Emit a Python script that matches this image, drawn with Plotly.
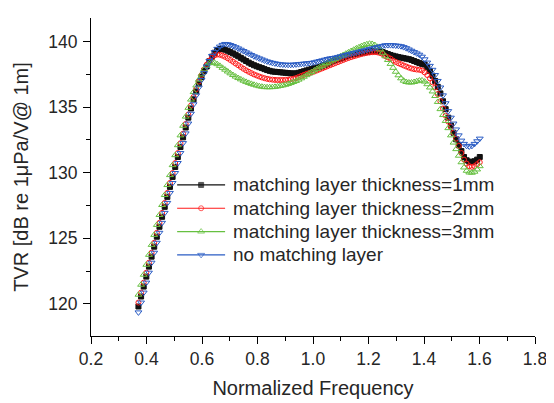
import numpy as np
import plotly.graph_objects as go

# Normalized frequency sampling grid (uniform, 0.371 .. 1.601)
n_pts = 131
freq = np.linspace(0.371, 1.601, n_pts)

tvr_1mm = [
    119.8, 120.56, 121.32, 122.08, 122.84, 123.6, 124.36, 125.12, 125.88, 126.64,
    127.4, 128.16, 128.92, 129.68, 130.44, 131.2, 131.96, 132.7, 133.45, 134.2,
    134.9, 135.6, 136.2, 136.8, 137.3, 137.75, 138.1, 138.5, 138.85, 139.15,
    139.35, 139.43, 139.45, 139.38, 139.3, 139.2, 139.1, 139.0, 138.88, 138.76,
    138.64, 138.52, 138.4, 138.3, 138.2, 138.12, 138.05, 137.98, 137.9, 137.83,
    137.77, 137.72, 137.7, 137.68, 137.66, 137.64, 137.62, 137.6, 137.58, 137.57,
    137.58, 137.62, 137.68, 137.74, 137.8, 137.86, 137.92, 137.97, 138.02, 138.07,
    138.14, 138.22, 138.3, 138.4, 138.5, 138.58, 138.65, 138.7, 138.78, 138.86,
    138.94, 139.0, 139.04, 139.07, 139.1, 139.14, 139.18, 139.22, 139.25, 139.27,
    139.28, 139.27, 139.25, 139.2, 139.12, 139.05, 138.98, 138.92, 138.87, 138.82,
    138.78, 138.74, 138.7, 138.66, 138.6, 138.52, 138.44, 138.36, 138.3, 138.25,
    138.05, 137.75, 137.4, 137.0, 136.55, 136.05, 135.45, 134.85, 134.2, 133.6,
    133.05, 132.55, 132.1, 131.65, 131.2, 130.95, 130.85, 130.82, 130.88, 131.0,
    131.2,
]

tvr_2mm = [
    120.1, 120.86, 121.62, 122.38, 123.14, 123.9, 124.66, 125.42, 126.18, 126.94,
    127.7, 128.46, 129.22, 129.98, 130.74, 131.5, 132.25, 132.98, 133.72, 134.44,
    135.12, 135.78, 136.38, 136.95, 137.45, 137.88, 138.25, 138.55, 138.8, 138.95,
    139.02, 139.0, 138.93, 138.84, 138.73, 138.6, 138.47, 138.33, 138.2, 138.06,
    137.93, 137.81, 137.7, 137.6, 137.5, 137.42, 137.34, 137.27, 137.21, 137.16,
    137.12, 137.1, 137.08, 137.07, 137.07, 137.07, 137.08, 137.1, 137.13, 137.17,
    137.22, 137.3, 137.38, 137.46, 137.54, 137.6, 137.66, 137.72, 137.8, 137.88,
    137.96, 138.04, 138.12, 138.2, 138.28, 138.36, 138.44, 138.52, 138.6, 138.68,
    138.75, 138.82, 138.88, 138.94, 139.0, 139.05, 139.1, 139.14, 139.17, 139.19,
    139.2, 139.18, 139.13, 139.05, 138.9, 138.8, 138.7, 138.55, 138.45, 138.35,
    138.27, 138.18, 138.1, 138.02, 137.95, 137.9, 137.87, 137.85, 137.8, 137.65,
    137.45, 137.2, 136.9, 136.5, 136.0, 135.45, 134.9, 134.35, 133.9, 133.5,
    133.05, 132.6, 132.05, 131.5, 131.0, 130.7, 130.5, 130.45, 130.5, 130.65,
    130.8,
]

tvr_3mm = [
    120.7, 121.46, 122.22, 122.98, 123.74, 124.5, 125.26, 126.02, 126.78, 127.54,
    128.3, 129.06, 129.82, 130.58, 131.34, 132.1, 132.85, 133.58, 134.28, 134.95,
    135.58, 136.15, 136.65, 137.1, 137.5, 137.88, 138.15, 138.35, 138.42, 138.38,
    138.28, 138.15, 138.0, 137.86, 137.72, 137.58, 137.45, 137.33, 137.22, 137.12,
    137.02, 136.93, 136.85, 136.78, 136.71, 136.65, 136.6, 136.56, 136.53, 136.52,
    136.52, 136.53, 136.55, 136.58, 136.62, 136.66, 136.71, 136.77, 136.84, 136.92,
    137.0, 137.1, 137.2, 137.32, 137.44, 137.56, 137.68, 137.8, 137.92, 138.04,
    138.15, 138.26, 138.37, 138.48, 138.58, 138.68, 138.78, 138.88, 138.98, 139.08,
    139.18, 139.28, 139.38, 139.48, 139.57, 139.66, 139.74, 139.8, 139.84, 139.82,
    139.74, 139.6, 139.4, 139.15, 138.88, 138.6, 138.3, 138.0, 137.7, 137.43,
    137.2, 137.02, 136.92, 136.88, 136.88, 136.92, 136.98, 137.03, 137.04, 136.95,
    136.75, 136.5, 136.2, 135.85, 135.4, 134.85, 134.4, 133.95, 133.4, 132.85,
    132.3, 131.8, 131.3, 130.8, 130.4, 130.15, 130.02, 130.0, 130.08, 130.25,
    130.5,
]

tvr_none = [
    119.35, 120.1, 120.86, 121.62, 122.38, 123.14, 123.9, 124.66, 125.42, 126.18,
    126.94, 127.7, 128.46, 129.22, 129.98, 130.74, 131.5, 132.26, 133.0, 133.75,
    134.5, 135.22, 135.9, 136.5, 137.08, 137.6, 138.1, 138.52, 138.9, 139.2,
    139.45, 139.62, 139.75, 139.82, 139.8, 139.74, 139.66, 139.57, 139.48, 139.38,
    139.28, 139.18, 139.08, 138.98, 138.88, 138.8, 138.72, 138.64, 138.56, 138.49,
    138.43, 138.38, 138.34, 138.3, 138.27, 138.25, 138.24, 138.23, 138.23, 138.24,
    138.26, 138.28, 138.3, 138.32, 138.34, 138.36, 138.38, 138.42, 138.47, 138.52,
    138.57, 138.62, 138.67, 138.72, 138.75, 138.78, 138.83, 138.88, 138.93, 138.98,
    139.03, 139.08, 139.13, 139.18, 139.23, 139.28, 139.33, 139.38, 139.43, 139.48,
    139.53, 139.58, 139.63, 139.67, 139.72, 139.73, 139.73, 139.72, 139.7, 139.68,
    139.65, 139.58, 139.5, 139.4, 139.3, 139.2, 139.1, 139.0, 138.85, 138.65,
    138.4, 138.15, 137.85, 137.45, 137.0, 136.5, 135.9, 135.3, 134.7, 134.2,
    133.75, 133.3, 132.85, 132.45, 132.2, 132.05, 132.0, 132.05, 132.2, 132.4,
    132.6,
]

series_names = [
    "matching layer thickness=1mm",
    "matching layer thickness=2mm",
    "matching layer thickness=3mm",
    "no matching layer",
]
series_values = [tvr_1mm, tvr_2mm, tvr_3mm, tvr_none]
series_colors = ["#111111", "#ff1a1a", "#66c040", "#2a5cc4"]
series_symbols = ["square", "circle-open", "triangle-up-open", "triangle-down-open"]
series_sizes = [5, 5, 6, 6]

x_ticks = [0.2, 0.4, 0.6, 0.8, 1.0, 1.2, 1.4, 1.6, 1.8]
x_tick_labels = ["0.2", "0.4", "0.6", "0.8", "1.0", "1.2", "1.4", "1.6", "1.8"]
y_ticks = [120, 125, 130, 135, 140]

font_fam = "Liberation Sans, Arial, sans-serif"
txt = "#262626"

fig = go.Figure()
for name, vals, col, sym, sz in zip(series_names, series_values, series_colors,
                                    series_symbols, series_sizes):
    fig.add_trace(go.Scatter(
        x=freq, y=vals, mode="markers", name=name, showlegend=False,
        marker=dict(symbol=sym, size=sz, color=col, line=dict(color=col, width=1)),
    ))

# Legend drawn in a hidden overlay axis spanning the plot area (0..1 fractions)
leg_x0, leg_xm, leg_x1, leg_xt = 0.194, 0.248, 0.302, 0.316
leg_y_top, leg_dy = 0.475, 0.0733
annotations = []
for i, (name, col, sym, sz) in enumerate(zip(series_names, series_colors,
                                             series_symbols, series_sizes)):
    yy = leg_y_top - i * leg_dy
    fig.add_trace(go.Scatter(
        x=[leg_x0, leg_xm, leg_x1], y=[yy, yy, yy], mode="lines+markers",
        xaxis="x2", yaxis="y2", showlegend=False, hoverinfo="skip",
        line=dict(color=col, width=1.2),
        marker=dict(symbol=sym, size=[0, sz, 0], color=col, line=dict(color=col, width=1)),
    ))
    annotations.append(dict(
        x=leg_xt, y=yy, xref="x2", yref="y2", text=name, showarrow=False,
        xanchor="left", yanchor="middle", font=dict(size=19, color=txt),
    ))

# The page body has an 8px default margin, so the figure is 8px smaller
# and the margins are reduced accordingly.
fig.update_layout(
    width=546, height=395,
    margin=dict(l=83, r=19, t=10, b=67, pad=0),
    paper_bgcolor="white", plot_bgcolor="white",
    font=dict(family=font_fam, size=18, color=txt),
    showlegend=False,
    annotations=annotations,
    xaxis2=dict(overlaying="x", range=[0, 1], visible=False, fixedrange=True),
    yaxis2=dict(overlaying="y", range=[0, 1], visible=False, fixedrange=True),
)
fig.update_layout(
    xaxis=dict(
        range=[0.2, 1.8], tickvals=x_ticks, ticktext=x_tick_labels, automargin=False,
        showgrid=False, zeroline=False, showline=True, linecolor="black", linewidth=1,
        ticks="outside", ticklen=7, tickwidth=1, tickcolor="black",
        minor=dict(dtick=0.1, tick0=0.2, ticks="outside", ticklen=4, tickcolor="black", showgrid=False),
        tickfont=dict(size=17.5, color=txt),
        title=dict(text="Normalized Frequency", font=dict(size=20, color=txt), standoff=12),
    ),
    yaxis=dict(
        range=[117.55, 141.8], tickvals=y_ticks, automargin=False,
        showgrid=False, zeroline=False, showline=True, linecolor="black", linewidth=1,
        ticks="outside", ticklen=7, tickwidth=1, tickcolor="black", ticklabelstandoff=2,
        minor=dict(dtick=2.5, tick0=120, ticks="outside", ticklen=4, tickcolor="black", showgrid=False),
        tickfont=dict(size=17.5, color=txt),
        title=dict(text="TVR [dB re 1μPa/V@ 1m]", font=dict(size=20, color=txt), standoff=14),
    ),
)

fig.write_html("out.html")
